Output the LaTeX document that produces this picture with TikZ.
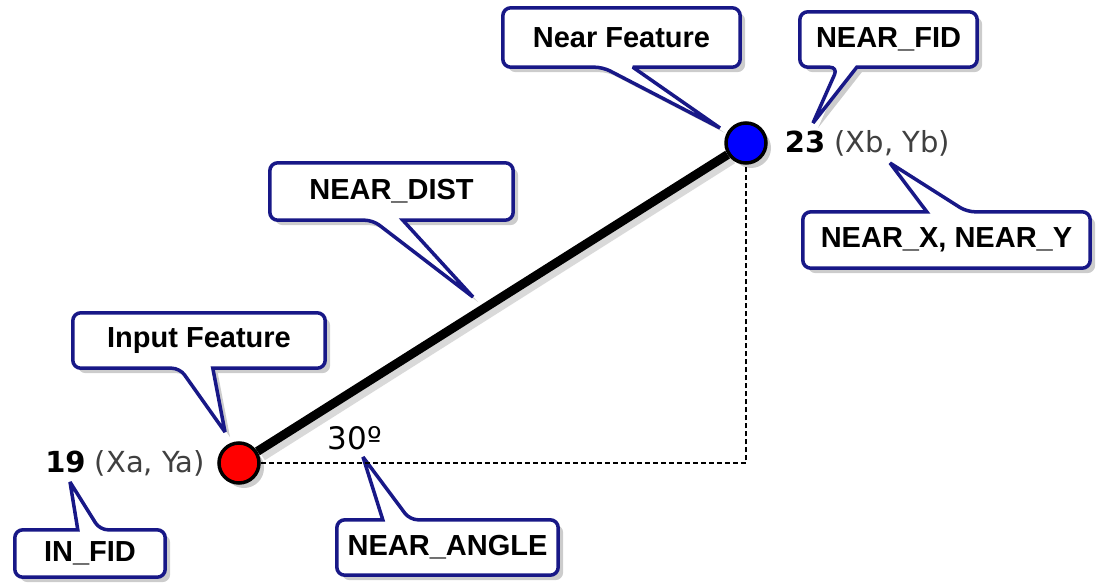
\documentclass[tikz,border=0pt]{standalone}
\usepackage{fontspec}
\setmainfont{DejaVu Sans}
\newfontfamily\labelfont{Liberation Sans}
\usetikzlibrary{calc, positioning, shadows, backgrounds}
\definecolor{callblue}{RGB}{24,24,135}

\begin{document}
\begin{tikzpicture}[x=1pt, y=-1pt,
    box/.style={inner sep=0pt, text=black, font=\labelfont\bfseries\fontsize{29}{34}\selectfont},
    callout/.style={draw=callblue, line width=3.5pt, fill=white, miter limit=3,
        drop shadow={shadow xshift=5pt, shadow yshift=-5pt, fill=black, opacity=.2}},
    dot/.style={circle, draw=black, line width=3.5pt, minimum size=40pt, inner sep=0pt,
        drop shadow={shadow xshift=5pt, shadow yshift=-5pt, fill=black, opacity=.2}},
    coordtext/.style={inner sep=0pt, font=\fontsize{29}{34}\selectfont},
    guide/.style={dash pattern=on 5pt off 3pt, line width=2pt}
  ]
 \begin{scope}[on background layer]
  \fill[white] (0,0) rectangle (1097,583);
 \end{scope}
 \useasboundingbox (0,0) rectangle (1097,583);

 % the two features
 \node[dot, fill=red] (input) at (239,463) {};
 \node[dot, fill=blue] (near) at (746,143) {};
 \coordinate (corner) at (near |- input);

 \draw[guide] (input) -- (corner) -- (near);
 \draw[line width=9pt, black, opacity=.15] ([shift={(5pt,-5pt)}]input.32) -- ([shift={(5pt,-5pt)}]near.212);
 \draw[line width=9pt] (input) -- (near);

 \node[coordtext, left=12pt of input] (inlabel) {\textbf{19} \textcolor{black!75}{(Xa, Ya)}};
 \node[coordtext, right=17pt of near] (nearlabel) {\textbf{23} \textcolor{black!75}{(Xb, Yb)}};
 \node[coordtext, font=\fontsize{31}{34}\selectfont] (angle) at (355,438) {30º};

 % callout boxes
 \node[box, minimum width=237pt, minimum height=59pt] (nearfeat) at (621.5,37.5) {Near Feature};
 \node[box, minimum width=177pt, minimum height=55pt] (nearfid) at (888.5,39.5) {NEAR\_FID};
 \node[box, minimum width=287pt, minimum height=56pt] (nearxy) at (946.5,240) {NEAR\_X, NEAR\_Y};
 \node[box, minimum width=243pt, minimum height=57pt] (neardist) at (391.5,191.5) {NEAR\_DIST};
 \node[box, minimum width=252pt, minimum height=55pt] (inputfeat) at (199,340.5) {Input Feature};
 \node[box, minimum width=150pt, minimum height=47pt] (infid) at (90,553.5) {IN\_FID};
 \node[box, minimum width=221pt, minimum height=55pt] (nearangle) at (447.5,547.5) {NEAR\_ANGLE};

 % pointer tips
 \coordinate (nftip) at (720,128);
 \coordinate (fidtip) at (813,123);
 \coordinate (xytip) at (890,163);
 \coordinate (disttip) at (473,297);
 \coordinate (iftip) at (225,432);
 \coordinate (infidtip) at (70,482);
 \coordinate (angtip) at (363,457);

 \begin{scope}[on background layer]
  \path[callout] (nftip) -- ([xshift=130pt]nearfeat.south west) [rounded corners=8pt]
    -- (nearfeat.south east) -- (nearfeat.north east) -- (nearfeat.north west)
    -- (nearfeat.south west) -- ([xshift=100pt]nearfeat.south west) [sharp corners] -- cycle;
  \path[callout] (fidtip) -- ([xshift=57pt]nearfid.south west) [rounded corners=8pt]
    -- (nearfid.south east) -- (nearfid.north east) -- (nearfid.north west)
    -- (nearfid.south west) -- ([xshift=38pt]nearfid.south west) [sharp corners] -- cycle;
  \path[callout] (disttip) -- ([xshift=133pt]neardist.south west) [rounded corners=8pt]
    -- (neardist.south east) -- (neardist.north east) -- (neardist.north west)
    -- (neardist.south west) -- ([xshift=103pt]neardist.south west) [sharp corners] -- cycle;
  \path[callout] (iftip) -- ([xshift=140pt]inputfeat.south west) [rounded corners=8pt]
    -- (inputfeat.south east) -- (inputfeat.north east) -- (inputfeat.north west)
    -- (inputfeat.south west) -- ([xshift=107pt]inputfeat.south west) [sharp corners] -- cycle;
  \path[callout] (xytip) -- ([xshift=124pt]nearxy.north west) [rounded corners=8pt]
    -- (nearxy.north west) -- (nearxy.south west) -- (nearxy.south east)
    -- (nearxy.north east) -- ([xshift=164pt]nearxy.north west) [sharp corners] -- cycle;
  \path[callout] (infidtip) -- ([xshift=63pt]infid.north west) [rounded corners=8pt]
    -- (infid.north west) -- (infid.south west) -- (infid.south east)
    -- (infid.north east) -- ([xshift=85pt]infid.north west) [sharp corners] -- cycle;
  \path[callout] (angtip) -- ([xshift=46pt]nearangle.north west) [rounded corners=8pt]
    -- (nearangle.north west) -- (nearangle.south west) -- (nearangle.south east)
    -- (nearangle.north east) -- ([xshift=73pt]nearangle.north west) [sharp corners] -- cycle;
 \end{scope}
\end{tikzpicture}
\end{document}
